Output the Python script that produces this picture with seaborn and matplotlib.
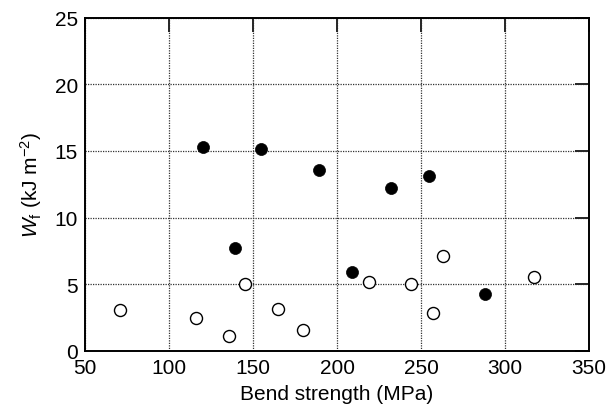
import matplotlib
matplotlib.use("Agg")
import matplotlib.pyplot as plt
import seaborn as sns
import pandas as pd

# Filled circles
filled_x = [120, 155, 189, 139, 232, 255, 209, 288]
filled_y = [15.3, 15.15, 13.55, 7.7, 12.25, 13.1, 5.95, 4.3]
# Open circles
open_x = [71, 116, 136, 145, 165, 180, 219, 244, 263, 257, 317]
open_y = [3.05, 2.5, 1.15, 5.0, 3.15, 1.6, 5.15, 5.05, 7.1, 2.85, 5.55]

x_ticks = [50, 100, 150, 200, 250, 300, 350]
y_ticks = [0, 5, 10, 15, 20, 25]

sns.set_style("white")
plt.rcParams['font.family'] = ['Liberation Sans', 'DejaVu Sans']
plt.rcParams['mathtext.fontset'] = 'custom'
plt.rcParams['mathtext.rm'] = 'Liberation Sans'
plt.rcParams['mathtext.it'] = 'Liberation Sans:italic'

fig = plt.figure(figsize=(6.16, 4.14), dpi=100)
ax = fig.add_axes([85/616, 1-352/414, (589-85)/616, (352-18.5)/414])

df_f = pd.DataFrame({"x": filled_x, "y": filled_y})
df_o = pd.DataFrame({"x": open_x, "y": open_y})
sns.scatterplot(data=df_o, x="x", y="y", ax=ax, s=75, facecolor="white",
                edgecolor="black", linewidth=1.0, zorder=3)
sns.scatterplot(data=df_f, x="x", y="y", ax=ax, s=75, color="black",
                edgecolor="black", linewidth=0.5, zorder=3)

ax.set_xlim(50, 350)
ax.set_ylim(0, 25)
ax.set_xticks(x_ticks)
ax.set_yticks(y_ticks)
ax.grid(True, linestyle=(0, (1, 1)), color="#333333", linewidth=0.9)
ax.set_axisbelow(True)
for sp in ax.spines.values():
    sp.set_visible(True)
    sp.set_color("black")
    sp.set_linewidth(1.4)
ax.tick_params(direction="in", length=10, width=1.4, labelsize=15,
               labelcolor="black", top=True, right=True,
               labeltop=False, labelright=False, pad=5)
ax.set_xlabel("Bend strength (MPa)", fontsize=15, labelpad=5, color="black")
ax.set_ylabel(r"$W_\mathrm{f}$ (kJ m$^{-2}$)", fontsize=15, labelpad=8, color="black")

fig.savefig("out.png", dpi=100)
